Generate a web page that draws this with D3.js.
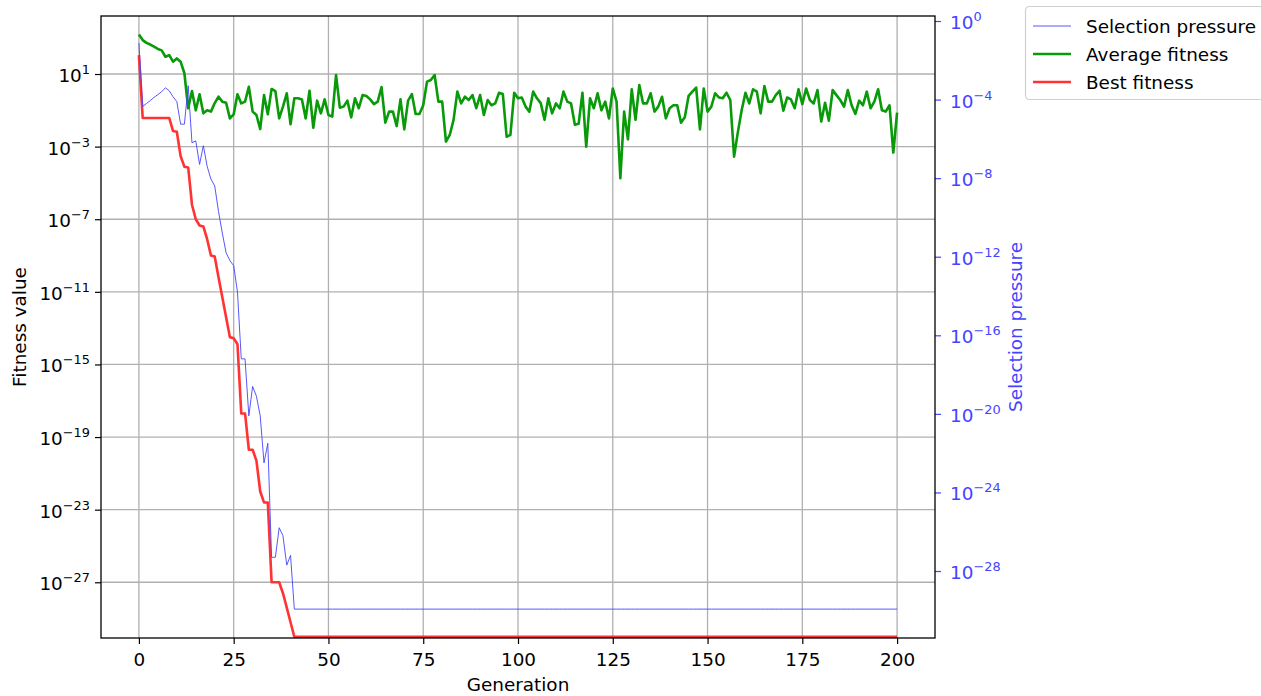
<!DOCTYPE html>
<html>
<head>
<meta charset="utf-8">
<script src="https://cdn.jsdelivr.net/npm/d3@7"></script>
<style>
body { margin: 0; background: #fff; }
svg text { font-family: "DejaVu Sans", sans-serif; }
</style>
</head>
<body>
<svg id="chart" width="1261" height="696"></svg>
<script>
// Generations on the x axis
var generations = d3.range(0, 201);

// Selection pressure (right axis)
var selectionPressure = [
    7.6e-2, 4.5e-5, 6.3e-5, 8.9e-5, 1.3e-4, 1.8e-4, 2.5e-4, 4.0e-4, 2.8e-4, 1.4e-4,
    7.9e-5, 5.6e-6, 5.6e-6, 5.1e-4, 6.3e-7, 7.9e-7, 5.0e-8, 4.5e-7, 4.0e-8, 8.9e-9,
    4.0e-9, 2.0e-10, 1.6e-11, 1.6e-12, 6.3e-13, 3.5e-13, 1.6e-14, 6.3e-18, 6.3e-18, 7.9e-21,
    2.5e-19, 7.9e-20, 7.9e-21, 3.2e-23, 3.2e-22, 5.0e-28, 5.0e-28, 1.6e-26, 6.3e-27, 2.0e-28,
    6.3e-28,
    1.15e-30, 1.15e-30, 1.15e-30, 1.15e-30, 1.15e-30, 1.15e-30, 1.15e-30, 1.15e-30, 1.15e-30, 1.15e-30,
    1.15e-30, 1.15e-30, 1.15e-30, 1.15e-30, 1.15e-30, 1.15e-30, 1.15e-30, 1.15e-30, 1.15e-30, 1.15e-30,
    1.15e-30, 1.15e-30, 1.15e-30, 1.15e-30, 1.15e-30, 1.15e-30, 1.15e-30, 1.15e-30, 1.15e-30, 1.15e-30,
    1.15e-30, 1.15e-30, 1.15e-30, 1.15e-30, 1.15e-30, 1.15e-30, 1.15e-30, 1.15e-30, 1.15e-30, 1.15e-30,
    1.15e-30, 1.15e-30, 1.15e-30, 1.15e-30, 1.15e-30, 1.15e-30, 1.15e-30, 1.15e-30, 1.15e-30, 1.15e-30,
    1.15e-30, 1.15e-30, 1.15e-30, 1.15e-30, 1.15e-30, 1.15e-30, 1.15e-30, 1.15e-30, 1.15e-30, 1.15e-30,
    1.15e-30, 1.15e-30, 1.15e-30, 1.15e-30, 1.15e-30, 1.15e-30, 1.15e-30, 1.15e-30, 1.15e-30, 1.15e-30,
    1.15e-30, 1.15e-30, 1.15e-30, 1.15e-30, 1.15e-30, 1.15e-30, 1.15e-30, 1.15e-30, 1.15e-30, 1.15e-30,
    1.15e-30, 1.15e-30, 1.15e-30, 1.15e-30, 1.15e-30, 1.15e-30, 1.15e-30, 1.15e-30, 1.15e-30, 1.15e-30,
    1.15e-30, 1.15e-30, 1.15e-30, 1.15e-30, 1.15e-30, 1.15e-30, 1.15e-30, 1.15e-30, 1.15e-30, 1.15e-30,
    1.15e-30, 1.15e-30, 1.15e-30, 1.15e-30, 1.15e-30, 1.15e-30, 1.15e-30, 1.15e-30, 1.15e-30, 1.15e-30,
    1.15e-30, 1.15e-30, 1.15e-30, 1.15e-30, 1.15e-30, 1.15e-30, 1.15e-30, 1.15e-30, 1.15e-30, 1.15e-30,
    1.15e-30, 1.15e-30, 1.15e-30, 1.15e-30, 1.15e-30, 1.15e-30, 1.15e-30, 1.15e-30, 1.15e-30, 1.15e-30,
    1.15e-30, 1.15e-30, 1.15e-30, 1.15e-30, 1.15e-30, 1.15e-30, 1.15e-30, 1.15e-30, 1.15e-30, 1.15e-30,
    1.15e-30, 1.15e-30, 1.15e-30, 1.15e-30, 1.15e-30, 1.15e-30, 1.15e-30, 1.15e-30, 1.15e-30, 1.15e-30,
    1.15e-30, 1.15e-30, 1.15e-30, 1.15e-30, 1.15e-30, 1.15e-30, 1.15e-30, 1.15e-30, 1.15e-30, 1.15e-30
];

// Average fitness (left axis)
var avgFitness = [
    1.5e3, 7.4e2, 5.2e2, 4.2e2, 3.2e2, 2.4e2, 2.0e2, 8.9e1, 1.1e2, 4.8e1,
    7.2e1, 4.8e1, 1.1e1, 1.3e-1, 1.15, 1.0e-1, 7.6e-1, 6.8e-2, 1.0e-1, 8.5e-2,
    2.5e-1, 5.6e-1, 3.0e-1, 2.6e-1, 3.6e-2, 6.0e-2, 7.6e-1, 2.4e-1, 3.0e-1, 2.0,
    8.5e-2, 5.5e-2, 9.3e-3, 6.9e-1, 6.0e-2, 1.5, 1.15, 3.6e-2, 1.6e-1, 8.7e-1,
    1.7e-2, 4.6e-1, 4.6e-1, 4.0e-1, 3.6e-2, 1.2, 1.1e-2, 3.4e-1, 6.8e-2, 4.0e-1,
    5.5e-2, 4.5e-2, 8.8, 1.4e-1, 1.6e-1, 3.4e-1, 4.1e-2, 4.6e-1, 1.3e-1, 6.9e-1,
    6.2e-1, 4.0e-1, 2.2e-1, 3.0e-1, 1.9, 2.1e-2, 8.5e-2, 8.5e-2, 1.35e-2, 4.0e-1,
    8.9e-3, 3.4e-1, 7.9e-1, 6.3e-2, 6.3e-2, 1.9e-1, 3.8, 4.7, 8.8, 3.0e-1,
    3.0e-1, 1.9e-3, 4.4e-3, 3.0e-2, 1.07, 2.4e-1, 5.6e-1, 3.7e-1, 6.9e-1, 1.3e-1,
    6.9e-1, 5.5e-2, 3.7e-1, 1.9e-1, 2.4e-1, 9.3e-1, 7.9e-1, 3.5e-3, 4.4e-3, 9.3e-1,
    4.6e-1, 5.1e-1, 1.6e-1, 8.5e-2, 1.07, 4.6e-1, 2.5e-1, 3.0e-2, 4.6e-1, 6.8e-2,
    2.4e-1, 1.3e-1, 1.07, 3.0e-1, 2.4e-1, 1.6e-2, 1.8e-2, 9.3e-1, 1.0e-3, 4.6e-1,
    1.3e-1, 8.7e-1, 1.0e-1, 3.0e-1, 3.6e-2, 1.6, 3.0e-1, 1.8e-5, 8.5e-2, 2.5e-3,
    1.45, 3.0e-2, 2.5, 2.4e-1, 2.4e-1, 8.7e-1, 8.5e-2, 1.6e-1, 5.6e-1, 3.6e-2,
    1.3e-1, 1.9e-1, 1.9e-1, 2.1e-2, 4.1e-2, 6.2e-1, 1.07, 1.8, 8.9e-3, 1.6,
    8.5e-2, 1.6e-1, 8.7e-1, 5.1e-1, 4.6e-1, 9.3e-1, 3.7e-1, 2.8e-4, 6.3e-3, 1.0e-1,
    9.3e-1, 2.4e-1, 1.45, 1.07, 6.8e-2, 2.2, 3.0e-1, 3.0e-1, 6.9e-1, 1.2,
    9.5e-2, 5.1e-1, 4.0e-1, 1.3e-1, 1.45, 2.2e-1, 1.6, 3.7e-1, 2.4e-1, 1.3,
    2.4e-2, 2.6e-1, 2.7e-2, 1.3, 6.9e-1, 3.7e-1, 1.6e-1, 1.3, 1.9e-1, 6.3e-2,
    3.4e-1, 1.9e-1, 1.07, 1.3e-1, 3.0e-1, 1.45, 1.0e-1, 8.5e-2, 1.9e-1, 4.7e-4,
    7.4e-2
];

// Best fitness (left axis)
var bestFitness = [
    1.1e2, 3.8e-2, 3.8e-2, 3.8e-2, 3.8e-2, 3.8e-2, 3.8e-2, 3.8e-2, 3.8e-2, 7.2e-3,
    6.6e-3, 3.0e-4, 7.8e-5, 7.1e-5, 6.3e-7, 1.0e-7, 4.5e-8, 4.0e-8, 7.9e-9, 1.0e-9,
    8.9e-10, 6.3e-11, 5.0e-12, 4.0e-13, 3.2e-14, 2.8e-14, 1.3e-14, 2.0e-18, 2.0e-18, 2.0e-20,
    2.0e-20, 5.0e-21, 1.0e-22, 2.5e-23, 2.5e-23, 1.0e-27, 1.0e-27, 1.0e-27, 2.5e-28, 4.0e-29,
    6.3e-30,
    1e-30, 1e-30, 1e-30, 1e-30, 1e-30, 1e-30, 1e-30, 1e-30, 1e-30, 1e-30, 1e-30, 1e-30, 1e-30, 1e-30, 1e-30, 1e-30,
    1e-30, 1e-30, 1e-30, 1e-30, 1e-30, 1e-30, 1e-30, 1e-30, 1e-30, 1e-30, 1e-30, 1e-30, 1e-30, 1e-30, 1e-30, 1e-30,
    1e-30, 1e-30, 1e-30, 1e-30, 1e-30, 1e-30, 1e-30, 1e-30, 1e-30, 1e-30, 1e-30, 1e-30, 1e-30, 1e-30, 1e-30, 1e-30,
    1e-30, 1e-30, 1e-30, 1e-30, 1e-30, 1e-30, 1e-30, 1e-30, 1e-30, 1e-30, 1e-30, 1e-30, 1e-30, 1e-30, 1e-30, 1e-30,
    1e-30, 1e-30, 1e-30, 1e-30, 1e-30, 1e-30, 1e-30, 1e-30, 1e-30, 1e-30, 1e-30, 1e-30, 1e-30, 1e-30, 1e-30, 1e-30,
    1e-30, 1e-30, 1e-30, 1e-30, 1e-30, 1e-30, 1e-30, 1e-30, 1e-30, 1e-30, 1e-30, 1e-30, 1e-30, 1e-30, 1e-30, 1e-30,
    1e-30, 1e-30, 1e-30, 1e-30, 1e-30, 1e-30, 1e-30, 1e-30, 1e-30, 1e-30, 1e-30, 1e-30, 1e-30, 1e-30, 1e-30, 1e-30,
    1e-30, 1e-30, 1e-30, 1e-30, 1e-30, 1e-30, 1e-30, 1e-30, 1e-30, 1e-30, 1e-30, 1e-30, 1e-30, 1e-30, 1e-30, 1e-30,
    1e-30, 1e-30, 1e-30, 1e-30, 1e-30, 1e-30, 1e-30, 1e-30, 1e-30, 1e-30, 1e-30, 1e-30, 1e-30, 1e-30, 1e-30, 1e-30,
    1e-30, 1e-30, 1e-30, 1e-30, 1e-30, 1e-30, 1e-30, 1e-30, 1e-30, 1e-30, 1e-30, 1e-30, 1e-30, 1e-30, 1e-30, 1e-30
];

// Tick values
var xTicks = [0, 25, 50, 75, 100, 125, 150, 175, 200];
var leftTickExp = [1, -3, -7, -11, -15, -19, -23, -27];
var rightTickExp = [0, -4, -8, -12, -16, -20, -24, -28];

var seriesNames = ["Selection pressure", "Average fitness", "Best fitness"];

var blue = "#4444ff";
var green = "#089a08";
var red = "#ff3333";
var fontSize = 18.4;

// Plot area (pixel bounds)
var plotLeft = 101, plotRight = 935, plotTop = 16, plotBottom = 638;

var svg = d3.select("#chart");

var x = d3.scaleLinear().domain([-10, 210]).range([plotLeft, plotRight]);
var yLeft = d3.scaleLog().domain([Math.pow(10, -30.07), Math.pow(10, 4.196)]).range([plotBottom, plotTop]);
var yRight = d3.scaleLog().domain([Math.pow(10, -31.41), Math.pow(10, 0.255)]).range([plotBottom, plotTop]);

svg.append("defs").append("clipPath")
    .attr("id", "plotClip")
    .append("rect")
    .attr("x", plotLeft)
    .attr("y", plotTop)
    .attr("width", plotRight - plotLeft)
    .attr("height", plotBottom - plotTop);

// Grid lines
var grid = svg.append("g").attr("class", "grid");

grid.selectAll(".vgrid")
    .data(xTicks)
    .enter()
    .append("line")
    .attr("x1", d => x(d))
    .attr("x2", d => x(d))
    .attr("y1", plotTop)
    .attr("y2", plotBottom)
    .attr("stroke", "#b0b0b0")
    .attr("stroke-width", 1.3);

grid.selectAll(".hgrid")
    .data(leftTickExp)
    .enter()
    .append("line")
    .attr("x1", plotLeft)
    .attr("x2", plotRight)
    .attr("y1", d => yLeft(Math.pow(10, d)))
    .attr("y2", d => yLeft(Math.pow(10, d)))
    .attr("stroke", "#b0b0b0")
    .attr("stroke-width", 1.3);

// Lines
var plot = svg.append("g").attr("clip-path", "url(#plotClip)");

var lineLeft = d3.line()
    .x((d, i) => x(generations[i]))
    .y(d => yLeft(d));

var lineRight = d3.line()
    .x((d, i) => x(generations[i]))
    .y(d => yRight(d));

plot.append("path")
    .datum(avgFitness)
    .attr("d", lineLeft)
    .attr("fill", "none")
    .attr("stroke", green)
    .attr("stroke-width", 2.6)
    .attr("stroke-linejoin", "round");

plot.append("path")
    .datum(bestFitness)
    .attr("d", lineLeft)
    .attr("fill", "none")
    .attr("stroke", red)
    .attr("stroke-width", 2.6)
    .attr("stroke-linejoin", "round");

plot.append("path")
    .datum(selectionPressure)
    .attr("d", lineRight)
    .attr("fill", "none")
    .attr("stroke", blue)
    .attr("stroke-width", 0.9)
    .attr("stroke-linejoin", "round");

// Axes
var xAxis = svg.append("g")
    .attr("transform", "translate(0," + plotBottom + ")")
    .call(d3.axisBottom(x).tickValues(xTicks).tickSize(6).tickPadding(8));

var leftAxis = svg.append("g")
    .attr("transform", "translate(" + plotLeft + ",0)")
    .call(d3.axisLeft(yLeft).tickValues(leftTickExp.map(e => Math.pow(10, e))).tickSize(6).tickFormat(""));

var rightAxis = svg.append("g")
    .attr("transform", "translate(" + plotRight + ",0)")
    .call(d3.axisRight(yRight).tickValues(rightTickExp.map(e => Math.pow(10, e))).tickSize(6).tickFormat(""));

[xAxis, leftAxis, rightAxis].forEach(function(a) {
    a.select(".domain").remove();
    a.selectAll(".tick line").attr("stroke-width", 1.2);
});
rightAxis.selectAll(".tick line").attr("stroke", blue);

xAxis.selectAll(".tick text")
    .attr("font-size", fontSize)
    .attr("font-family", "DejaVu Sans")
    .attr("fill", "#000")
    .attr("dy", null)
    .attr("y", 28);

// Power-of-ten labels with superscripts
function powerLabel(g, scale, exps, xPos, anchor, color) {
    g.selectAll(".powlabel")
        .data(exps)
        .enter()
        .append("text")
        .attr("class", "powlabel")
        .attr("x", xPos)
        .attr("y", d => scale(Math.pow(10, d)) + 8)
        .attr("text-anchor", anchor)
        .attr("fill", color)
        .attr("font-size", fontSize)
        .each(function(d) {
            var t = d3.select(this);
            t.append("tspan").text("10");
            t.append("tspan")
                .attr("dy", -8)
                .attr("font-size", fontSize * 0.7)
                .text(d < 0 ? "\u2212" + (-d) : d);
        });
}
powerLabel(leftAxis, yLeft, leftTickExp, -11, "end", "#000");
powerLabel(rightAxis, yRight, rightTickExp, 15, "start", blue);

// Spines
svg.append("rect")
    .attr("x", plotLeft)
    .attr("y", plotTop)
    .attr("width", plotRight - plotLeft)
    .attr("height", plotBottom - plotTop)
    .attr("fill", "none")
    .attr("stroke", "#000")
    .attr("stroke-width", 1.3);

// Axis titles
svg.append("text")
    .attr("x", (plotLeft + plotRight) / 2)
    .attr("y", 691)
    .attr("text-anchor", "middle")
    .attr("font-size", fontSize)
    .text("Generation");

svg.append("text")
    .attr("transform", "translate(26,327) rotate(-90)")
    .attr("text-anchor", "middle")
    .attr("font-size", fontSize)
    .text("Fitness value");

svg.append("text")
    .attr("transform", "translate(1022,327) rotate(-90)")
    .attr("text-anchor", "middle")
    .attr("font-size", fontSize)
    .attr("fill", blue)
    .text("Selection pressure");

// Legend
var legend = svg.append("g");
legend.append("rect")
    .attr("x", 1025.5)
    .attr("y", 6.5)
    .attr("width", 245)
    .attr("height", 93)
    .attr("rx", 4)
    .attr("fill", "#fff")
    .attr("stroke", "#d0d0d0")
    .attr("stroke-width", 1.2);

var legendColors = [blue, green, red];
var legendWidths = [0.9, 2.6, 2.6];

var rows = legend.selectAll(".row")
    .data(seriesNames)
    .enter()
    .append("g")
    .attr("transform", (d, i) => "translate(0," + (26 + i * 28) + ")");

rows.append("line")
    .attr("x1", 1033)
    .attr("x2", 1071)
    .attr("stroke", (d, i) => legendColors[i])
    .attr("stroke-width", (d, i) => legendWidths[i]);

rows.append("text")
    .attr("x", 1086)
    .attr("y", 6.5)
    .attr("font-size", fontSize)
    .text(d => d);
</script>
</body>
</html>
